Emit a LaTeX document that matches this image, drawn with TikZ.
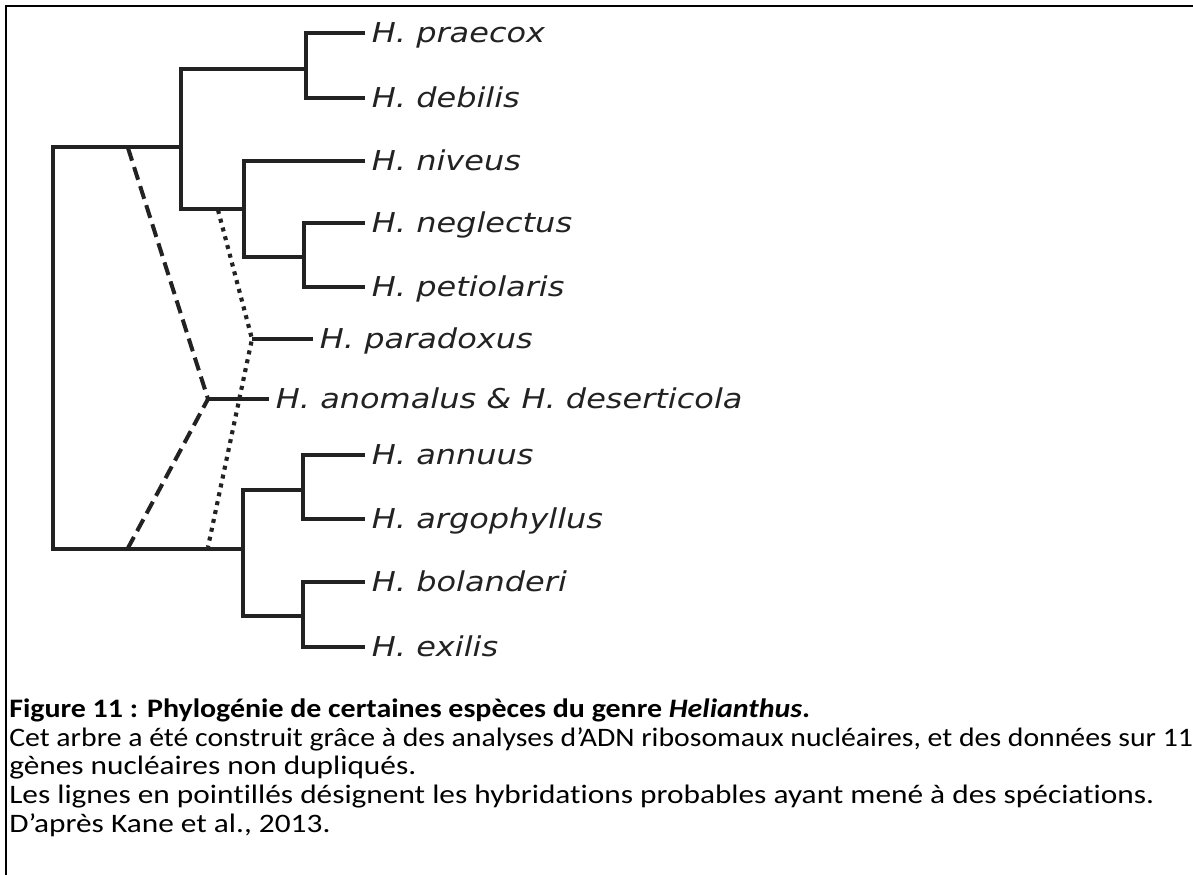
\documentclass[tikz,border=0pt]{standalone}
\usepackage{fontspec}
\setmainfont{Carlito}[FakeStretch=1.175, Ligatures=NoCommon]
\newfontfamily\leaffont{DejaVu Sans}[FakeStretch=1.17]
\usepackage{xcolor}
\usetikzlibrary{positioning,calc}
\definecolor{treegray}{HTML}{222222}

\begin{document}
\begin{tikzpicture}[x=0.75pt, y=-0.75pt,
  branch/.style={line width=3.1pt, draw=treegray, line join=miter},
  hybdash/.style={line width=3pt, draw=treegray, dash pattern=on 10pt off 5pt},
  hybdot/.style={line width=3.1pt, draw=treegray, dash pattern=on 3pt off 3.8pt},
  leaf/.style={anchor=west, inner xsep=5pt, inner ysep=0pt, text height=14.9pt, text depth=0pt,
    text=treegray, font=\leaffont\itshape\fontsize{20.5}{24}\selectfont},
  capline/.style={anchor=base west, inner sep=0pt, font=\fontsize{20}{24}\selectfont}]
  \useasboundingbox (0,0) rectangle (1193,875);

  % Frame
  \draw[line width=2pt] (6,875) -- (6,6) -- (1193,6);

  % Leaves
  \node[leaf] (praecox) at (365,33) {H. praecox};
  \node[leaf] (debilis) at (365,98) {H. debilis};
  \node[leaf] (niveus) at (365,161) {H. niveus};
  \node[leaf] (neglectus) at (365,223) {H. neglectus};
  \node[leaf] (petiolaris) at (365,287) {H. petiolaris};
  \node[leaf] (paradoxus) at (313,339) {H. paradoxus};
  \node[leaf] (anomalus) at (269,399) {H. anomalus \& H. deserticola};
  \node[leaf] (annuus) at (365,455) {H. annuus};
  \node[leaf] (argophyllus) at (365,519) {H. argophyllus};
  \node[leaf] (bolanderi) at (365,582) {H. bolanderi};
  \node[leaf] (exilis) at (365,647) {H. exilis};

  % Internal nodes
  \coordinate (nR) at (53,348);
  \coordinate (nA) at (181,147);
  \coordinate (nB) at (306,69);
  \coordinate (nC) at (244,209);
  \coordinate (nD) at (304,257);
  \coordinate (nE) at (243,549);
  \coordinate (nF) at (303,490);
  \coordinate (nG) at (303,616);
  \coordinate (nH1) at (252,339);
  \coordinate (nH2) at (208,399);

  % Tree
  \draw[branch] (praecox.west) -| (nB) |- (debilis.west);
  \draw[branch] (niveus.west) -| (nC) |- (nD);
  \draw[branch] (neglectus.west) -| (nD) |- (petiolaris.west);
  \draw[branch] (nB) -| (nA) |- (nC);
  \draw[branch] (annuus.west) -| (nF) |- (argophyllus.west);
  \draw[branch] (bolanderi.west) -| (nG) |- (exilis.west);
  \draw[branch] (nF) -| (nE) |- (nG);
  \draw[branch] (nA) -| (nR) |- (nE);

  % Hybrid species
  \draw[branch] (nH1) -- (paradoxus.west);
  \draw[branch] (nH2) -- (anomalus.west);
  \coordinate (d1) at (128,148);
  \coordinate (d2) at (128,548);
  \coordinate (p1) at (218,210);
  \coordinate (p2) at (208,547);
  \draw[hybdash] (d1) -- (nH2) -- (d2);
  \draw[hybdot] (p1) -- (nH1) -- (p2);

  % Caption
  \node[capline] (cap1) at (9,717) {\scalebox{0.955}[1]{\textbf{Figure 11 : Phylogénie de certaines espèces du genre \textit{Helianthus}.}}};
  \node[capline] (cap2) at (9,746) {\scalebox{0.95}[1]{Cet arbre a été construit grâce à des analyses d’ADN ribosomaux nucléaires, et des données sur 11}};
  \node[capline] (cap3) at (9,774) {gènes nucléaires non dupliqués.};
  \node[capline] (cap4) at (9,803) {Les lignes en pointillés désignent les hybridations probables ayant mené à des spéciations.};
  \node[capline] (cap5) at (9,832) {D’après Kane et al., 2013.};
\end{tikzpicture}
\end{document}
